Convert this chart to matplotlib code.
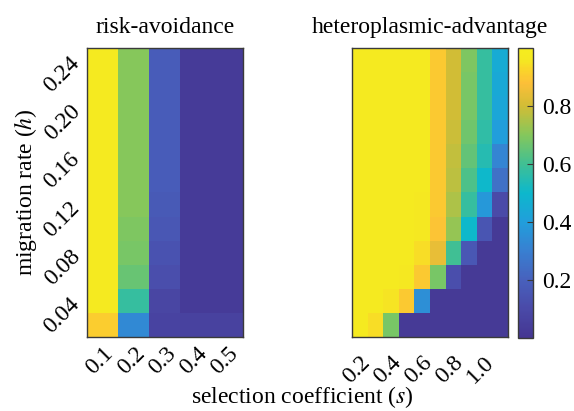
import numpy as np
import matplotlib
matplotlib.use("Agg")
import matplotlib.pyplot as plt
from matplotlib.colors import LinearSegmentedColormap
from matplotlib.transforms import ScaledTranslation

plt.rcParams['font.family'] = ['Liberation Serif', 'DejaVu Serif']
plt.rcParams['mathtext.fontset'] = 'stix'

# ---------------- data ----------------
h_values = [0.02, 0.04, 0.06, 0.08, 0.10, 0.12, 0.14, 0.16, 0.18, 0.20, 0.22, 0.24]
s_left = [0.1, 0.2, 0.3, 0.4, 0.5]
s_right = [0.1, 0.2, 0.3, 0.4, 0.5, 0.6, 0.7, 0.8, 0.9, 1.0]

# risk-avoidance: rows = h (bottom -> top), cols = s
risk_s01 = [0.91, 0.975, 0.975, 0.975, 0.975, 0.975, 0.975, 0.975, 0.975, 0.975, 0.975, 0.975]
risk_s02 = [0.33, 0.58, 0.66, 0.68, 0.69, 0.70, 0.70, 0.70, 0.70, 0.70, 0.70, 0.70]
risk_s03 = [0.07, 0.08, 0.12, 0.14, 0.16, 0.17, 0.18, 0.18, 0.18, 0.18, 0.18, 0.18]
risk_s04 = [0.06, 0.03, 0.03, 0.03, 0.03, 0.03, 0.03, 0.03, 0.03, 0.03, 0.03, 0.03]
risk_s05 = [0.06, 0.03, 0.03, 0.03, 0.03, 0.03, 0.03, 0.03, 0.03, 0.03, 0.03, 0.03]

# heteroplasmic-advantage: one list per h row (bottom -> top), values over s
het_h002 = [0.97, 0.94, 0.68, 0.02, 0.02, 0.02, 0.02, 0.02, 0.02, 0.02]
het_h004 = [0.97, 0.97, 0.95, 0.90, 0.35, 0.02, 0.02, 0.02, 0.02, 0.02]
het_h006 = [0.97, 0.97, 0.97, 0.96, 0.90, 0.68, 0.12, 0.02, 0.02, 0.02]
het_h008 = [0.97, 0.97, 0.97, 0.97, 0.94, 0.84, 0.60, 0.16, 0.02, 0.02]
het_h010 = [0.97, 0.97, 0.97, 0.97, 0.96, 0.89, 0.72, 0.50, 0.15, 0.02]
het_h012 = [0.97, 0.97, 0.97, 0.97, 0.96, 0.90, 0.75, 0.58, 0.38, 0.10]
het_h014 = [0.97, 0.97, 0.97, 0.97, 0.97, 0.90, 0.77, 0.62, 0.50, 0.25]
het_h016 = [0.97, 0.97, 0.97, 0.97, 0.97, 0.90, 0.78, 0.65, 0.55, 0.32]
het_h018 = [0.97, 0.97, 0.97, 0.97, 0.97, 0.90, 0.79, 0.67, 0.57, 0.40]
het_h020 = [0.97, 0.97, 0.97, 0.97, 0.97, 0.90, 0.80, 0.68, 0.58, 0.43]
het_h022 = [0.97, 0.97, 0.97, 0.97, 0.97, 0.90, 0.80, 0.68, 0.58, 0.44]
het_h024 = [0.97, 0.97, 0.97, 0.97, 0.97, 0.90, 0.80, 0.69, 0.58, 0.45]

ytick_vals = [0.04, 0.08, 0.12, 0.16, 0.20, 0.24]
ytick_labels = ["0.04", "0.08", "0.12", "0.16", "0.20", "0.24"]
xtick_left_vals = [0.1, 0.2, 0.3, 0.4, 0.5]
xtick_left_labels = ["0.1", "0.2", "0.3", "0.4", "0.5"]
xtick_right_vals = [0.2, 0.4, 0.6, 0.8, 1.0]
xtick_right_labels = ["0.2", "0.4", "0.6", "0.8", "1.0"]
cbar_ticks = [0.2, 0.4, 0.6, 0.8]
cbar_labels = ["0.2", "0.4", "0.6", "0.8"]

# ---------------- colormap (parula-like) ----------------
anchors = [
    (0.00, (0.27, 0.21, 0.57)),
    (0.10, (0.29, 0.29, 0.66)),
    (0.20, (0.28, 0.38, 0.74)),
    (0.30, (0.22, 0.50, 0.82)),
    (0.40, (0.13, 0.62, 0.86)),
    (0.50, (0.05, 0.72, 0.80)),
    (0.60, (0.25, 0.75, 0.58)),
    (0.70, (0.52, 0.78, 0.36)),
    (0.80, (0.82, 0.74, 0.21)),
    (0.88, (0.99, 0.75, 0.22)),
    (0.93, (0.98, 0.84, 0.16)),
    (0.96, (0.96, 0.91, 0.13)),
    (1.00, (0.96, 0.93, 0.12)),
]
cmap = LinearSegmentedColormap.from_list("parula_like", anchors, N=256)

def edges(c):
    c = np.asarray(c, dtype=float)
    d = np.diff(c)
    return np.concatenate([[c[0] - d[0] / 2], c[:-1] + d / 2, [c[-1] + d[-1] / 2]])

Z_left = np.column_stack([risk_s01, risk_s02, risk_s03, risk_s04, risk_s05])
Z_right = np.array([het_h002, het_h004, het_h006, het_h008, het_h010, het_h012,
                    het_h014, het_h016, het_h018, het_h020, het_h022, het_h024])

W, H = 574, 411
fig = plt.figure(figsize=(W / 100, H / 100), dpi=100)
ax1 = fig.add_axes([86.5 / W, 74 / H, 156.5 / W, 289 / H])
ax2 = fig.add_axes([352.3 / W, 74 / H, 155.4 / W, 289 / H])
cax = fig.add_axes([518 / W, 73 / H, 15 / W, 290 / H])

frame_col = '#3a3a3a'
fs = 17

m1 = ax1.pcolormesh(edges(s_left), edges(h_values), Z_left, cmap=cmap, vmin=0, vmax=1)
m2 = ax2.pcolormesh(edges(s_right), edges(h_values), Z_right, cmap=cmap, vmin=0, vmax=1)

for ax in (ax1, ax2):
    for sp in ax.spines.values():
        sp.set_color(frame_col)
        sp.set_linewidth(1.0)
    ax.tick_params(length=0, labelsize=fs)

ax1.set_xticks(xtick_left_vals)
ax1.set_xticklabels(xtick_left_labels)
ax1.set_yticks(ytick_vals)
ax1.set_yticklabels(ytick_labels)
ax1.tick_params(axis='x', pad=9.5)
ax1.tick_params(axis='y', pad=7)
off_left = ScaledTranslation(8 / 100, 0, fig.dpi_scale_trans)
for lab in ax1.get_xticklabels():
    lab.set_rotation(45)
    lab.set_ha('right')
    lab.set_va('center')
    lab.set_rotation_mode('anchor')
    lab.set_transform(lab.get_transform() + off_left)
plt.setp(ax1.get_yticklabels(), rotation=45, ha='right', va='center', rotation_mode='anchor')

ax2.set_xticks(xtick_right_vals)
ax2.set_xticklabels(xtick_right_labels)
ax2.set_yticks([])
ax2.tick_params(axis='x', pad=16)
off = ScaledTranslation(-9 / 100, 0, fig.dpi_scale_trans)
for lab in ax2.get_xticklabels():
    lab.set_rotation(45)
    lab.set_ha('right')
    lab.set_va('center')
    lab.set_rotation_mode('anchor')
    lab.set_transform(lab.get_transform() + off)

ax1.set_title("risk-avoidance", fontsize=fs, pad=11)
ax2.set_title("heteroplasmic-advantage", fontsize=fs, pad=11)

cb = fig.colorbar(m2, cax=cax)
cb.set_ticks(cbar_ticks)
cb.set_ticklabels(cbar_labels)
cax.tick_params(direction='in', length=4, width=0.8, color=frame_col, labelsize=fs, pad=6.5)
cb.outline.set_edgecolor(frame_col)
cb.outline.set_linewidth(1.0)

fig.text(26 / W, (H - 192.5) / H, "migration rate ($h$)", rotation=90,
         ha='center', va='center', fontsize=fs)
fig.text(302 / W, 7.5 / H, "selection coefficient ($s$)", ha='center', va='baseline', fontsize=fs)

fig.savefig("out.png", dpi=100)
